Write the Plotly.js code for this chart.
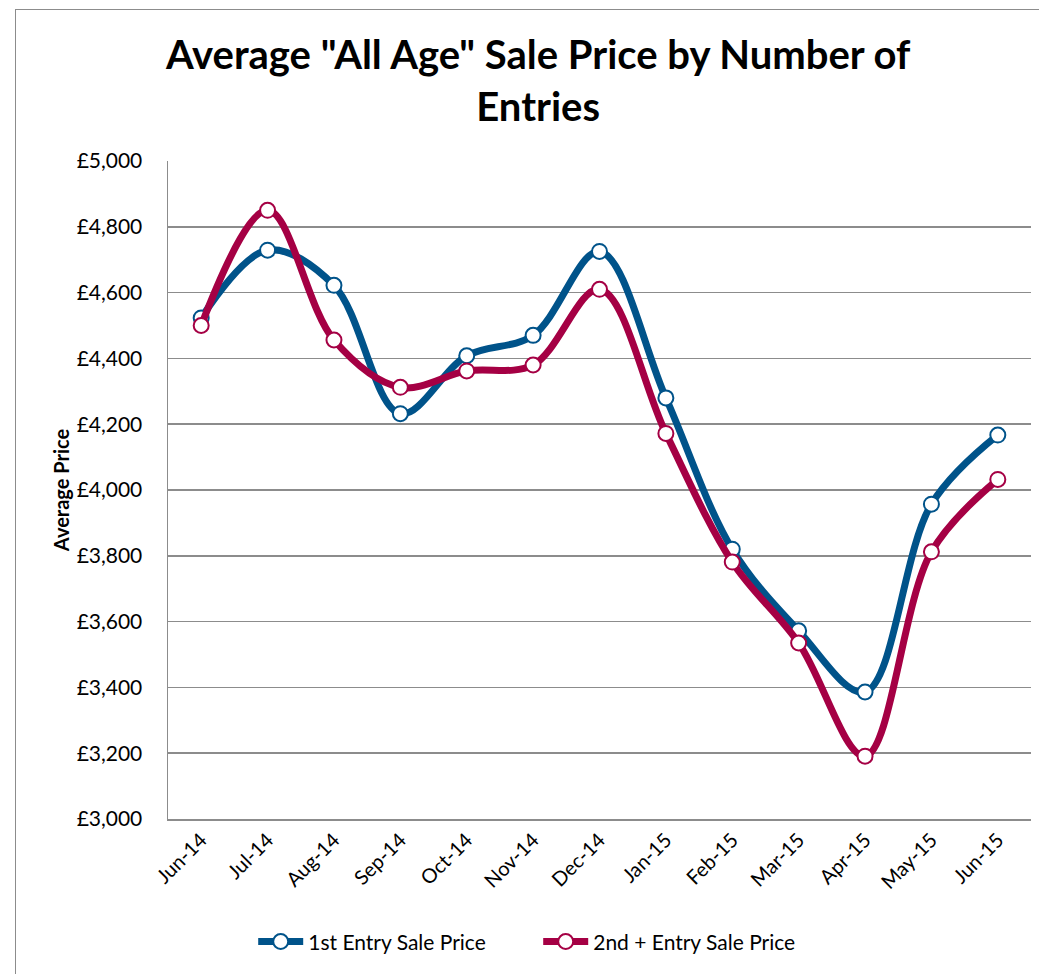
<!DOCTYPE html>
<html><head><meta charset="utf-8">
<script src="https://cdn.plot.ly/plotly-3.0.1.min.js"></script>
<style>
html,body{margin:0;padding:0;width:1039px;height:974px;overflow:hidden;background:#fff;}
#frame{position:absolute;left:15px;top:9px;width:1100px;height:1100px;border:1.5px solid #8c8c8c;box-sizing:border-box;}
#chart{position:absolute;left:0;top:0;width:1039px;height:974px;}
</style></head>
<body>
<div id="frame"></div>
<div id="chart"></div>
<script>
const months = ["Jun-14","Jul-14","Aug-14","Sep-14","Oct-14","Nov-14","Dec-14","Jan-15","Feb-15","Mar-15","Apr-15","May-15","Jun-15"];
const firstEntry = [4523,4729,4622,4232,4408,4470,4725,4280,3820,3572,3386,3957,4167];
const secondEntry = [4500,4850,4456,4312,4362,4380,4610,4172,3781,3535,3191,3812,4032];
const yTicks = [3000,3200,3400,3600,3800,4000,4200,4400,4600,4800,5000];
const yTickText = ["£3,000","£3,200","£3,400","£3,600","£3,800","£4,000","£4,200","£4,400","£4,600","£4,800","£5,000"];

const blue = "#00538A", red = "#A50044";
function series(name, y, color){
  return {type:"scatter", mode:"lines+markers", name:name, x:months, y:y,
    line:{color:color, width:7, shape:"spline", smoothing:1},
    marker:{symbol:"circle", size:15, color:"#ffffff", line:{color:color, width:2}},
    cliponaxis:false};
}
const data = [series("1st Entry Sale Price", firstEntry, blue), series("2nd + Entry Sale Price", secondEntry, red)];

const font = "Lato, 'Open Sans', sans-serif";
const layout = {
  width:1039, height:974, autosize:false,
  paper_bgcolor:"rgba(0,0,0,0)", plot_bgcolor:"rgba(0,0,0,0)",
  margin:{l:168, r:8, t:161, b:155, autoexpand:false},
  font:{family:font, color:"#000", size:18},
  title:{text:"<b>Average \"All Age\" Sale Price by Number of<br>Entries</b>",
    font:{family:font, size:40, color:"#000"}, x:0.518, xanchor:"center", xref:"container",
    y:0.929, yanchor:"top", yref:"container", automargin:false},
  xaxis:{type:"category", range:[-0.5,12.5], showgrid:false, zeroline:false,
    showline:true, linecolor:"#8c8c8c", linewidth:1.5, ticks:"",
    tickangle:-45, tickfont:{family:font, size:20}, fixedrange:true, automargin:false},
  yaxis:{range:[3000,5000], tickvals:yTicks, ticktext:yTickText, showgrid:true,
    gridcolor:"#8c8c8c", gridwidth:1.5, zeroline:false, showline:true,
    linecolor:"#8c8c8c", linewidth:1.5, ticks:"", ticklabelstandoff:20,
    tickfont:{family:font, size:21}, automargin:false,
    title:{text:"<b>Average Price</b>", font:{family:font, size:20}, standoff:1}},
  legend:{orientation:"h", x:0.518, xanchor:"center", xref:"container",
    y:0.033, yanchor:"middle", yref:"container", font:{family:font, size:21},
    tracegroupgap:0, itemwidth:45, entrywidth:225, entrywidthmode:"pixels"},
  showlegend:true
};
Plotly.newPlot("chart", data, layout, {displayModeBar:false, staticPlot:true});
</script>
</body></html>
